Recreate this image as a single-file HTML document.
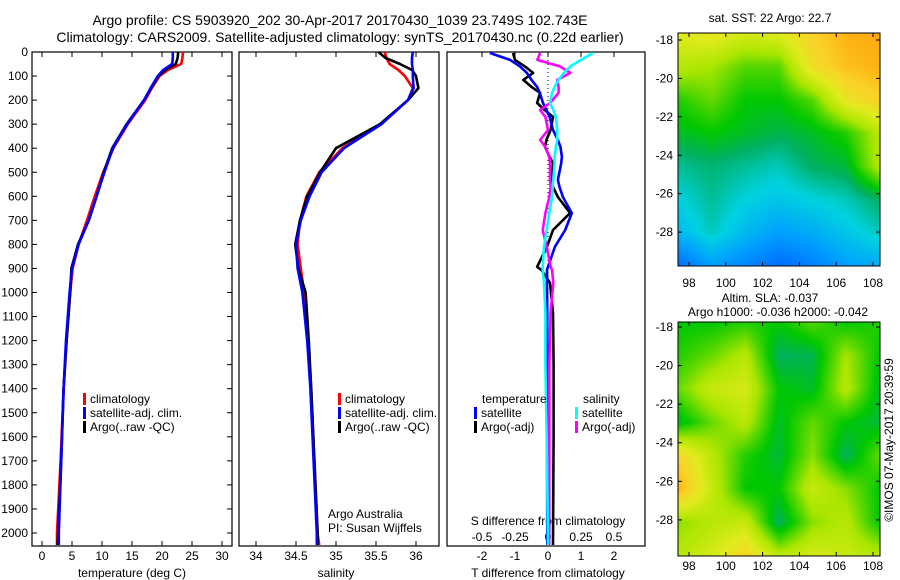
<!DOCTYPE html>
<html><head><meta charset="utf-8">
<style>
body{margin:0;background:#fff;width:900px;height:580px;overflow:hidden;font-family:"Liberation Sans",sans-serif;}
#wrap{position:relative;width:900px;height:580px;}
svg{position:absolute;left:0;top:0;}
canvas{position:absolute;}
</style></head>
<body><div id="wrap">
<canvas id="map1" width="202" height="233" style="left:678px;top:33px"></canvas>
<canvas id="map2" width="202" height="234" style="left:678px;top:322px"></canvas>
<svg id="fig" width="900" height="580"></svg>
</div>
<script>
// ---- data ----
const depths      = [0,25,50,75,100,150,200,300,400,500,600,700,800,900,1000,1200,1400,1700,2000,2050];
const tempArgo    = [22.7,22.6,22.3,20.5,19.4,18.2,17.0,14.1,11.7,10.3,9.1,7.8,6.0,4.9,4.7,4.1,3.6,3.2,2.7,2.6];
const tempClim    = [23.5,23.4,23.2,21.0,19.6,18.3,17.2,14.3,11.9,10.2,8.8,7.5,6.1,5.1,4.7,4.1,3.6,3.1,2.5,2.5];
const tempSat     = [21.8,21.8,21.7,20.2,19.3,18.1,17.0,14.2,11.8,10.4,9.1,7.8,6.1,5.0,4.6,4.0,3.6,3.2,2.8,2.8];
const salArgo     = [35.53,35.62,35.80,35.95,36.0,36.03,35.90,35.55,35.0,34.8,34.64,34.55,34.49,34.53,34.62,34.66,34.69,34.73,34.77,34.77];
const salClim     = [35.61,35.63,35.67,35.78,35.86,35.96,35.90,35.56,35.08,34.79,34.63,34.55,34.52,34.56,34.6,34.65,34.69,34.73,34.77,34.79];
const salSat      = [35.96,35.95,35.95,35.96,35.96,35.97,35.90,35.57,35.10,34.82,34.67,34.56,34.50,34.52,34.58,34.64,34.68,34.72,34.76,34.76];
const dDepths     = [4,33,60,87,116,145,170,212,241,270,324,366,395,436,462,532,561,603,670,740,810,893,906,960,1085,1300,1600,2050];
const dTempSat    = [-1.76,-1.15,-0.85,-0.64,-0.5,-0.33,-0.25,-0.15,-0.05,0.05,0.15,0.3,0.38,0.42,0.4,0.3,0.35,0.45,0.72,0.52,0.21,0.0,-0.03,-0.03,-0.02,-0.02,-0.03,-0.02];
const dTempArgo   = [-1.06,-1.0,-0.7,-0.45,-0.75,-0.5,-0.24,-0.33,-0.1,0.15,0.08,-0.05,-0.09,0.05,0.15,0.12,0.15,0.3,0.67,0.15,-0.03,-0.33,-0.2,0.06,0.15,0.17,0.17,0.15];
const dSalSat     = [0.34,0.25,0.17,0.12,0.08,0.05,0.03,0.015,0.04,0.06,0.07,0.07,0.06,0.05,0.05,0.04,0.035,0.03,0.01,-0.01,-0.03,-0.04,-0.04,-0.03,-0.02,-0.02,-0.01,0.0];
const dSalArgo    = [-0.06,-0.08,0.09,0.17,0.07,0.08,0.08,0.015,-0.06,-0.02,0.0,-0.06,-0.02,0.01,0.015,0.015,0.02,0.01,-0.02,-0.04,-0.01,0.02,0.03,0.04,0.02,0.01,0.01,0.01];
const depthTicks  = [0,100,200,300,400,500,600,700,800,900,1000,1100,1200,1300,1400,1500,1600,1700,1800,1900,2000];
const tempTicks   = [0,5,10,15,20,25,30];
const salTicks    = [34,34.5,35,35.5,36];
const tdTicks     = [-2,-1,0,1,2];
const sdTicks     = [-0.5,-0.25,0,0.25,0.5];
const lonTicks    = [98,100,102,104,106,108];
const latTicks    = [-18,-20,-22,-24,-26,-28];
const sstGrid = [
 [.68,.70,.66,.68,.75,.80,.82],
 [.62,.60,.55,.55,.72,.78,.80],
 [.52,.56,.50,.50,.55,.70,.75],
 [.48,.50,.48,.46,.48,.52,.62],
 [.42,.44,.42,.40,.45,.47,.62],
 [.38,.42,.38,.36,.38,.40,.45],
 [.34,.40,.34,.30,.32,.36,.40],
 [.22,.30,.26,.22,.25,.30,.32]];
const slaGrid = [
 [.50,.50,.52,.50,.55,.50,.52],
 [.52,.56,.62,.45,.46,.60,.50],
 [.56,.64,.66,.50,.48,.62,.48],
 [.48,.56,.62,.48,.56,.50,.47],
 [.74,.62,.52,.47,.58,.45,.56],
 [.80,.64,.50,.50,.64,.58,.50],
 [.58,.62,.64,.45,.58,.62,.50],
 [.62,.66,.74,.62,.66,.64,.62]];

// ---- scales ----
const yD = d => 52 + d*0.2405;
const xT = t => 42 + t*6;
const xS = s => 256 + (s-34)*80;
const xTD = t => 548 + t*33;
const xSD = s => 548 + s*132;
const NS='http://www.w3.org/2000/svg';
const svg=document.getElementById('fig');
function mk(tag,attrs,parent){const e=document.createElementNS(NS,tag);for(const k in attrs)e.setAttribute(k,attrs[k]);(parent||svg).appendChild(e);return e;}
function txt(x,y,s,anchor,size,parent){const e=mk('text',{x:x,y:y,'text-anchor':anchor||'start','font-size':size||12,fill:'#000'},parent);e.textContent=s;return e;}

let t1=txt(340,25,'Argo profile: CS 5903920_202 30-Apr-2017 20170430_1039 23.749S 102.743E','middle',14);

let t2=txt(340,42,'Climatology: CARS2009. Satellite-adjusted climatology: synTS_20170430.nc (0.22d earlier)','middle',14);


const panels=[{x0:32,x1:232,name:'temperature-panel'},{x0:239,x1:439,name:'salinity-panel'},{x0:447,x1:645,name:'difference-panel'}];
const yTop=52,yBot=546;
panels.forEach(p=>{
 const r=mk('rect',{x:p.x0,y:yTop,width:p.x1-p.x0,height:yBot-yTop,fill:'none',stroke:'#000','stroke-width':1.2});
 
});
depthTicks.forEach(d=>{
 const y=yD(d);
 const l=txt(28,y+4,String(d),'end',12);
 
 mk('line',{x1:32,x2:37,y1:y,y2:y,stroke:'#000'});
 mk('line',{x1:227,x2:232,y1:y,y2:y,stroke:'#000'});
});
function xticks(vals,f,labelY,top,bottom){
 vals.forEach(v=>{const x=f(v);
  if(bottom){mk('line',{x1:x,x2:x,y1:yBot,y2:yBot-5,stroke:'#000'});}
  if(top){mk('line',{x1:x,x2:x,y1:yTop,y2:yTop+5,stroke:'#000'});}
  const l=txt(x,labelY,String(v),'middle',12);
  
 });
}
xticks(tempTicks,xT,560,true,true);
xticks(salTicks,xS,560,true,true);
xticks(tdTicks,xTD,560,true,false);
sdTicks.forEach(v=>{const x=xSD(v);const l=txt(x,541,String(v),'middle',12);});
mk('line',{x1:548,x2:548,y1:yTop,y2:yBot,stroke:'#000','stroke-dasharray':'1,3','stroke-width':1});
[[xT(15),'temperature (deg C)','x-axis-title-temperature'],[xS(35),'salinity','x-axis-title-salinity'],[548,'T difference from climatology','x-axis-title-tdiff']].forEach(a=>{
 const l=txt(a[0],577,a[1],'middle',12);});
let sdt=txt(548,525,'S difference from climatology','middle',12);


function line(ds,vals,fx,color,name){
 const pts=ds.map((d,i)=>fx(vals[i]).toFixed(1)+','+yD(d).toFixed(1)).join(' ');
 const e=mk('polyline',{points:pts,fill:'none',stroke:color,'stroke-width':2.6,'stroke-linejoin':'round'});
 
}
line(depths,tempClim,xT,'#ff0000','temp-climatology-line');
line(depths,tempArgo,xT,'#000000','temp-argo-line');
line(depths,tempSat,xT,'#0000ff','temp-satellite-line');
line(depths,salClim,xS,'#ff0000','sal-climatology-line');
line(depths,salArgo,xS,'#000000','sal-argo-line');
line(depths,salSat,xS,'#0000ff','sal-satellite-line');
line(dDepths,dTempArgo,xTD,'#000000','tdiff-argo-line');
line(dDepths,dTempSat,xTD,'#0000ff','tdiff-satellite-line');
line(dDepths,dSalArgo,xSD,'#ff00ff','sdiff-argo-line');
line(dDepths,dSalSat,xSD,'#00ffff','sdiff-satellite-line');

function leg(x,y,color,label,name){
 mk('rect',{x:x,y:y-9,width:3,height:12,fill:color});
 const l=txt(x+7,y+1,label,'start',12);
}
leg(83,402,'#ff0000','climatology','legend-climatology');
leg(83,416,'#0000ff','satellite-adj. clim.','legend-satellite-adj');
leg(83,430,'#000000','Argo(..raw -QC)','legend-argo');
leg(338,402,'#ff0000','climatology','legend-climatology-2');
leg(338,416,'#0000ff','satellite-adj. clim.','legend-satellite-adj-2');
leg(338,430,'#000000','Argo(..raw -QC)','legend-argo-2');
let lt=txt(482,403,'temperature','start',12);
let ls=txt(583,403,'salinity','start',12);
leg(474,416,'#0000ff','satellite','legend-t-satellite');
leg(474,430,'#000000','Argo(-adj)','legend-t-argo');
leg(575,416,'#00ffff','satellite','legend-s-satellite');
leg(575,430,'#ff00ff','Argo(-adj)','legend-s-argo');
let a1=txt(328,518,'Argo Australia','start',12);
let a2=txt(328,532,'PI: Susan Wijffels','start',12);

const cstops=[[0,[0,0,140]],[.15,[0,64,255]],[.3,[0,160,255]],[.38,[0,210,224]],[.45,[0,176,96]],[.5,[0,200,0]],[.6,[170,230,0]],[.68,[225,235,30]],[.75,[250,210,40]],[.85,[255,150,0]],[1,[200,40,0]]];
function cmap(v){for(let i=1;i<cstops.length;i++){if(v<=cstops[i][0]){const a=cstops[i-1],b=cstops[i];const f=(v-a[0])/(b[0]-a[0]);return a[1].map((c,k)=>c+(b[1][k]-c)*f);}}return cstops[cstops.length-1][1];}
function drawMap(id,grid){
 const c=document.getElementById(id),ctx=c.getContext('2d'),W=c.width,H=c.height;
 const img=ctx.createImageData(W,H),R=grid.length,C=grid[0].length;
 for(let y=0;y<H;y++)for(let x=0;x<W;x++){
  const gx=x/(W-1)*(C-1),gy=y/(H-1)*(R-1);
  const i=Math.min(Math.floor(gx),C-2),j=Math.min(Math.floor(gy),R-2),fx=gx-i,fy=gy-j;
  const v=grid[j][i]*(1-fx)*(1-fy)+grid[j][i+1]*fx*(1-fy)+grid[j+1][i]*(1-fx)*fy+grid[j+1][i+1]*fx*fy;
  const col=cmap(v),o=(y*W+x)*4;
  img.data[o]=col[0];img.data[o+1]=col[1];img.data[o+2]=col[2];img.data[o+3]=255;
 }
 ctx.putImageData(img,0,0);
}
drawMap('map1',sstGrid);drawMap('map2',slaGrid);
function mapAxes(y0,y1,latY0,lonLabelY,name){
 const r=mk('rect',{x:678,y:y0,width:202,height:y1-y0,fill:'none',stroke:'#000'});
 
 const py=(y1-y0)/(12.13);
 latTicks.forEach(l=>{const y=latY0+(-18-l)*py;
  mk('line',{x1:678,x2:682,y1:y,y2:y,stroke:'#000'});mk('line',{x1:876,x2:880,y1:y,y2:y,stroke:'#000'});
  const t=txt(673,y+4,String(l),'end',12);});
 lonTicks.forEach(l=>{const x=689+(l-98)*18.4;
  mk('line',{x1:x,x2:x,y1:y1,y2:y1-4,stroke:'#000'});mk('line',{x1:x,x2:x,y1:y0,y2:y0+4,stroke:'#000'});
  const t=txt(x,lonLabelY,String(l),'middle',12);});
}
mapAxes(33,266,40,287,'sst-map-frame');
mapAxes(322,556,327,570,'sla-map-frame');
let m1=txt(770,22,'sat. SST: 22 Argo: 22.7','middle',12);
let m2=txt(770,302,'Altim. SLA: -0.037','middle',12);
let m3=txt(778,316,'Argo h1000: -0.036 h2000: -0.042','middle',12);
let cp=txt(0,0,'©IMOS 07-May-2017 20:39:59','middle',12);
cp.setAttribute('transform','translate(893,440) rotate(-90)');

</script>
</body></html>
